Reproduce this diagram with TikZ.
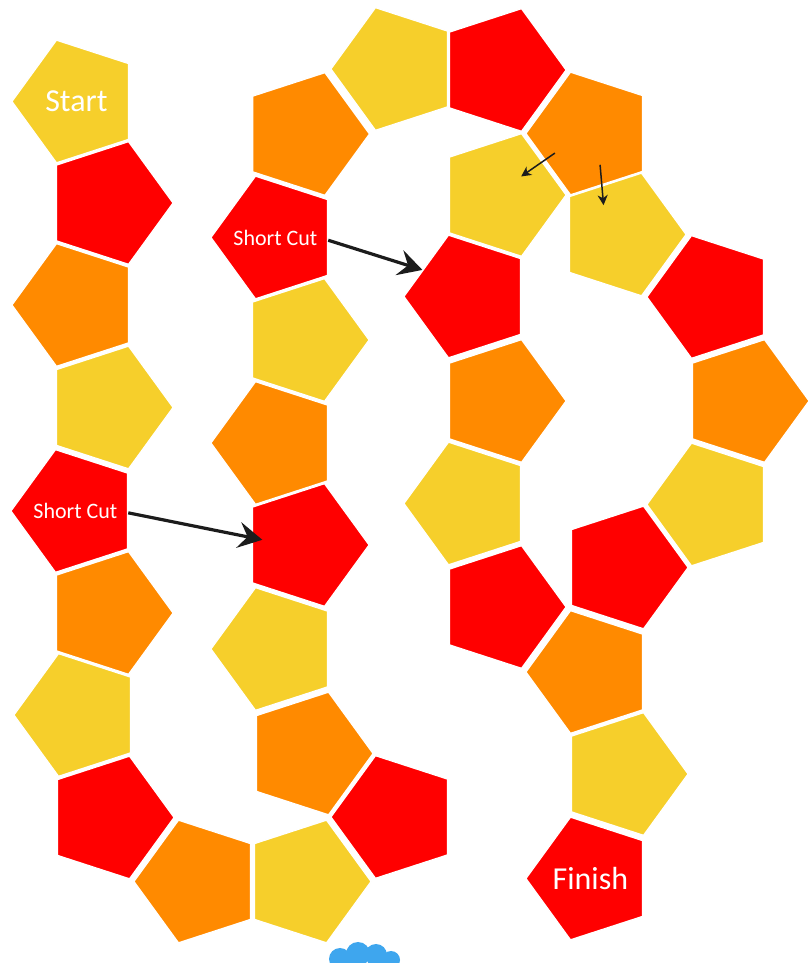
\documentclass[tikz,border=0pt]{standalone}
\usepackage{fontspec}
\setmainfont{Carlito}
\usetikzlibrary{shapes.geometric,arrows.meta,calc}

\definecolor{tileyellow}{HTML}{F6CF2B}
\definecolor{tileorange}{HTML}{FF8A00}
\definecolor{tilered}{HTML}{FF0000}
\definecolor{arrowink}{HTML}{1C1C1C}
\definecolor{cloudblue}{HTML}{3EA6EE}

\begin{document}
\begin{tikzpicture}[
  x=1pt,
  y=1pt,
  tile/.style={regular polygon,regular polygon sides=5,minimum size=129pt,
    inner sep=0pt,draw=white,line width=1.3pt,text=white},
  lefttile/.style={tile,shape border rotate=18},
  righttile/.style={tile,shape border rotate=-18},
  bigword/.style={font=\fontsize{32}{36}\selectfont},
  cutword/.style={font=\fontsize{22}{26}\selectfont},
  cutarrow/.style={draw=arrowink,line width=3.2pt,
    -{Stealth[length=24pt,width=26pt,inset=9pt]}},
  hoparrow/.style={draw=arrowink,line width=1.5pt,
    -{Stealth[length=10pt,width=10pt,inset=3pt]}}
]
\fill[white] (0,0) rectangle (807,963);
\useasboundingbox (0,0) rectangle (807,963);

% left column, top to bottom
\node[lefttile,fill=tileyellow,bigword] (start) at (76.4,861.5) {\makebox[0pt]{Start}};
\node[righttile,fill=tilered] (t2) at (108.6,760) {};
\node[lefttile,fill=tileorange] (t3) at (76.4,658) {};
\node[righttile,fill=tileyellow] (t4) at (108.6,555.5) {};
\node[lefttile,fill=tilered,cutword] (cutlow) at (75.4,452) {\makebox[0pt]{Short Cut}};
\node[righttile,fill=tileorange] (t6) at (108.6,350) {};
\node[lefttile,fill=tileyellow] (t7) at (78.4,248) {};
\node[righttile,fill=tilered] (t8) at (109.6,145.5) {};

% bottom turn
\node[lefttile,fill=tileorange] (t9) at (198.4,81.5) {};
\node[righttile,fill=tileyellow] (t10) at (306.6,81.5) {};
\node[lefttile,fill=tilered] (t11) at (395.4,146) {};

% second column, bottom to top
\node[righttile,fill=tileorange] (t12) at (308.6,209.5) {};
\node[lefttile,fill=tileyellow] (t13) at (275.4,314) {};
\node[righttile,fill=tilered] (t14) at (304.6,418) {};
\node[lefttile,fill=tileorange] (t15) at (275.4,520) {};
\node[righttile,fill=tileyellow] (t16) at (304.6,623) {};
\node[lefttile,fill=tilered,cutword] (cuthigh) at (275.4,725.5) {\makebox[0pt]{Short Cut}};
\node[righttile,fill=tileorange] (t18) at (305,829) {};

% top turn
\node[lefttile,fill=tileyellow] (t19) at (395.4,894) {};
\node[righttile,fill=tilered] (t20) at (501.6,893) {};
\node[lefttile,fill=tileorange] (fork) at (590.4,829.5) {};
\node[righttile,fill=tileyellow] (forkleft) at (501.6,768) {};
\node[righttile,fill=tileyellow] (forkright) at (621.6,728.5) {};

% inner branch
\node[lefttile,fill=tilered] (t24) at (468.4,666.5) {};
\node[righttile,fill=tileorange] (t25) at (501.6,562) {};
\node[lefttile,fill=tileyellow] (t26) at (468.4,459.5) {};
\node[righttile,fill=tilered] (t27) at (501.6,356) {};

% outer branch
\node[lefttile,fill=tilered] (t28) at (711.4,666) {};
\node[righttile,fill=tileorange] (t29) at (744.6,562) {};
\node[lefttile,fill=tileyellow] (t30) at (711.4,458.5) {};
\node[righttile,fill=tilered] (t31) at (623.6,395.5) {};

% run to the finish
\node[lefttile,fill=tileorange] (t32) at (590.4,291) {};
\node[righttile,fill=tileyellow] (t33) at (623.6,189) {};
\node[lefttile,fill=tilered,bigword] (finish) at (590.4,84.5) {\makebox[0pt]{Finish}};

\draw[cutarrow] (cutlow.-2) -- ($(t14.center)!0.8!(t14.173)$);
\draw[cutarrow] (cuthigh.-3) -- (t24.150);
\draw[hoparrow] ($(fork)!0.4!(forkleft)+(0,5)$) -- ($(fork)!0.78!(forkleft)+(0,5)$);
\draw[hoparrow] ($(fork)!0.31!(forkright)$) -- ($(fork)!0.71!(forkright)+(-9,0)$);

% cloud at the lower edge
\fill[cloudblue] (340,4) circle (11pt);
\fill[cloudblue] (358,9) circle (12pt);
\fill[cloudblue] (376,8) circle (11pt);
\fill[cloudblue] (391,3) circle (9pt);
\end{tikzpicture}
\end{document}
